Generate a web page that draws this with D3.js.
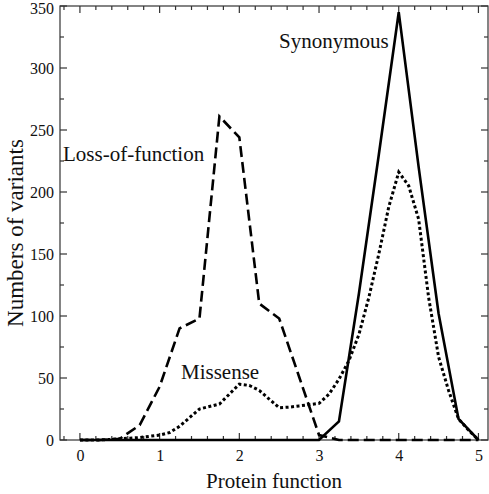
<!DOCTYPE html>
<html>
<head>
<meta charset="utf-8">
<script src="https://cdn.jsdelivr.net/npm/d3@7"></script>
<style>
  html, body { margin: 0; padding: 0; background: #fff; }
  svg { display: block; }
</style>
</head>
<body>
<svg id="chart" width="489" height="494"></svg>
<script>
// ---- data ----
const xQuarter = [0, 0.25, 0.5, 0.75, 1, 1.25, 1.5, 1.75, 2, 2.25, 2.5, 2.75, 3, 3.25, 3.5, 3.75, 4, 4.25, 4.5, 4.75, 5];
const lossOfFunction = [0, 0, 1, 12, 43, 90, 98, 261, 244, 110, 98, 51, 4, 0, 0, 0, 0, 0, 0, 0, 0];
const synonymous = [0, 0, 0, 0, 0, 0, 0, 0, 0, 0, 0, 0, 0, 15, 118, 230, 345, 220, 102, 17, 0];

const xEighth = [0, 0.125, 0.25, 0.375, 0.5, 0.625, 0.75, 0.875, 1, 1.125, 1.25, 1.375, 1.5, 1.625, 1.75, 1.875,
                 2, 2.125, 2.25, 2.375, 2.5, 2.625, 2.75, 2.875, 3, 3.125, 3.25, 3.375, 3.5, 3.625, 3.75, 3.875,
                 4, 4.125, 4.25, 4.375, 4.5, 4.625, 4.75, 4.875, 5];
const missense = [0, 0, 0, 0.5, 1, 1.5, 2, 3, 4, 6, 11, 18, 25, 27, 29, 37,
                  45, 44, 40, 33, 26, 26.5, 27.5, 28.5, 29.5, 37, 49, 64, 85, 115, 150, 188,
                  216, 205, 178, 115, 67, 40, 17, 8, 0];

const xMajorTicks = [0, 1, 2, 3, 4, 5];
const yMajorTicks = [0, 50, 100, 150, 200, 250, 300, 350];

const seriesLabels = ["Loss-of-function", "Missense", "Synonymous"];
const xTitle = "Protein function";
const yTitle = "Numbers of variants";

const FONT = "Liberation Serif";

// ---- layout ----
const svg = d3.select("#chart");
const L = 60, R = 488, T = 6, B = 440;

const x = d3.scaleLinear().domain([-0.25, 5.12]).range([L, R]);
const y = d3.scaleLinear().domain([0, 350]).range([B, T]);

const xMinor = d3.range(-0.2, 5.11, 0.2).map(v => +v.toFixed(2)).filter(v => !xMajorTicks.includes(v));
const yMinor = d3.range(0, 351, 25).filter(v => !yMajorTicks.includes(v));

// frame
svg.append("rect")
  .attr("x", L).attr("y", T).attr("width", R - L).attr("height", B - T)
  .attr("fill", "none").attr("stroke", "#333").attr("stroke-width", 1.2);

const tickG = svg.append("g").attr("stroke", "#333").attr("stroke-width", 1.2);
function xTicks(vals, len) {
  vals.forEach(v => {
    tickG.append("line").attr("x1", x(v)).attr("x2", x(v)).attr("y1", B).attr("y2", B - len);
    tickG.append("line").attr("x1", x(v)).attr("x2", x(v)).attr("y1", T).attr("y2", T + len);
  });
}
function yTicks(vals, len) {
  vals.forEach(v => {
    tickG.append("line").attr("y1", y(v)).attr("y2", y(v)).attr("x1", L).attr("x2", L + len);
    tickG.append("line").attr("y1", y(v)).attr("y2", y(v)).attr("x1", R).attr("x2", R - len);
  });
}
xTicks(xMajorTicks, 7);
xTicks(xMinor, 4);
yTicks(yMajorTicks, 7);
yTicks(yMinor, 4);

// tick labels via axes (lines hidden)
const xAxis = svg.append("g").attr("transform", `translate(0,${B})`)
  .call(d3.axisBottom(x).tickValues(xMajorTicks).tickSize(0).tickPadding(10).tickFormat(d3.format("d")));
const yAxis = svg.append("g").attr("transform", `translate(${L},0)`)
  .call(d3.axisLeft(y).tickValues(yMajorTicks).tickSize(0).tickPadding(6).tickFormat(d3.format("d")));
[xAxis, yAxis].forEach(a => {
  a.attr("font-family", null).attr("font-size", null);
  a.select(".domain").remove();
  a.selectAll("text").style("font-family", FONT).style("font-size", "16px").attr("fill", "#111");
});
yAxis.selectAll("text").filter(d => d === 350).attr("dy", "0.45em");

// lines
const line = d3.line().x(d => x(d[0])).y(d => y(d[1]));
const gLines = svg.append("g").attr("fill", "none").attr("stroke", "#000");

gLines.append("path")
  .datum(xQuarter.map((v, i) => [v, synonymous[i]]))
  .attr("d", line).attr("stroke-width", 2.6).attr("stroke-linejoin", "miter");

gLines.append("path")
  .datum(xQuarter.map((v, i) => [v, lossOfFunction[i]]))
  .attr("d", line).attr("stroke-width", 2.6).attr("stroke-dasharray", "11,5");

gLines.append("path")
  .datum(xEighth.map((v, i) => [v, missense[i]]))
  .attr("d", line).attr("stroke-width", 3).attr("stroke-dasharray", "3,2.5");

// series labels
const lbl = svg.append("g").attr("fill", "#111");
lbl.append("text").attr("x", 63).attr("y", 161).style("font-family", FONT).style("font-size", "21px").text(seriesLabels[0]);
lbl.append("text").attr("x", 181).attr("y", 379).style("font-family", FONT).style("font-size", "21px").text(seriesLabels[1]);
lbl.append("text").attr("x", 279).attr("y", 48).style("font-family", FONT).style("font-size", "21px").text(seriesLabels[2]);

// axis titles
lbl.append("text").attr("x", (L + R) / 2).attr("y", 488).attr("text-anchor", "middle")
  .style("font-family", FONT).style("font-size", "21px").text(xTitle);
lbl.append("text").attr("transform", `translate(23,233) rotate(-90)`).attr("text-anchor", "middle")
  .style("font-family", FONT).style("font-size", "23px").text(yTitle);
</script>
</body>
</html>
